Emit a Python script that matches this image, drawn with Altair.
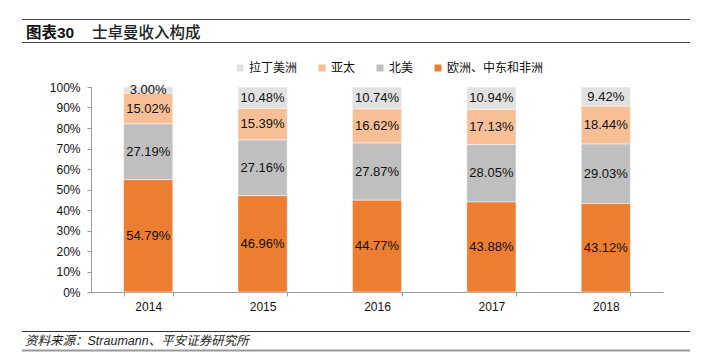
import altair as alt
import pandas as pd

years = ["2014", "2015", "2016", "2017", "2018"]
regions = ["拉丁美洲", "亚太", "北美", "欧洲、中东和非洲"]
latam = [3.00, 10.48, 10.74, 10.94, 9.42]
apac = [15.02, 15.39, 16.62, 17.13, 18.44]
namer = [27.19, 27.16, 27.87, 28.05, 29.03]
emea = [54.79, 46.96, 44.77, 43.88, 43.12]
colors = ["#E1E1E1", "#F8BF96", "#BFBFBF", "#ED7D31"]
y_ticks = list(range(0, 101, 10))

title_a = "图表30"
title_b = "士卓曼收入构成"
source = "资料来源：Straumann、平安证券研究所"

series = {"拉丁美洲": latam, "亚太": apac, "北美": namer, "欧洲、中东和非洲": emea}
stack_rank = {"欧洲、中东和非洲": 0, "北美": 1, "亚太": 2, "拉丁美洲": 3}
rows = []
for r, vals in series.items():
    for yr, v in zip(years, vals):
        rows.append({"year": yr, "region": r, "value": v, "rank": stack_rank[r],
                     "label": f"{v:.2f}%"})
df = pd.DataFrame(rows)

LAT = "Liberation Sans"
CJK = "Noto Sans CJK SC"
MIX = "Liberation Sans, Noto Sans CJK SC"

base = alt.Chart(df).transform_stack(
    as_=["v0", "v1"], stack="value", groupby=["year"],
    sort=[alt.SortField("rank", order="ascending")]
).transform_calculate(mid="(datum.v0 + datum.v1) / 2")

x_axis = alt.Axis(title=None, labelAngle=0, labelFontSize=12, labelFont=LAT,
                  labelColor="#111", domainColor="#999", tickColor="#999",
                  tickBand="extent", tickSize=4, labelPadding=5)
y_axis = alt.Axis(title=None, values=y_ticks, labelExpr="datum.value + '%'",
                  grid=False, labelFontSize=12, labelFont=LAT, labelColor="#111",
                  domainColor="#999", tickColor="#999", tickSize=4,
                  labelPadding=7, labelOverlap=False, labelFlush=False)
x_scale = alt.Scale(paddingInner=0.57, paddingOuter=0.285)
y_scale = alt.Scale(domain=[0, 100], nice=False)

bars = base.mark_bar(stroke="white", strokeWidth=0.5).encode(
    x=alt.X("year:N", sort=years, scale=x_scale, axis=x_axis),
    y=alt.Y("v0:Q", scale=y_scale, axis=y_axis),
    y2="v1:Q",
    color=alt.Color("region:N", scale=alt.Scale(domain=regions, range=colors),
                    legend=alt.Legend(title=None, orient="none", direction="horizontal",
                                      legendX=143, legendY=-25, symbolType="square",
                                      symbolSize=49, symbolStrokeWidth=0,
                                      labelFontSize=12, labelFont=CJK, labelColor="#111",
                                      labelOffset=3, columnPadding=18)),
)

labels = base.mark_text(fontSize=13, font=LAT, color="#111", baseline="middle").encode(
    x=alt.X("year:N", sort=years, scale=x_scale, axis=x_axis),
    y=alt.Y("mid:Q", scale=y_scale, axis=y_axis),
    text="label:N",
)

one = pd.DataFrame({"k": [0]})

def hline(y, color, width):
    return alt.Chart(one).mark_rule(color=color, strokeWidth=width).encode(
        x=alt.value(-69), x2=alt.value(599), y=alt.value(y))

deco = [
    hline(-67.5, "#444", 1.2),
    hline(-44.5, "#444", 1.2),
    hline(244.5, "#333", 1.2),
    hline(263.5, "#999", 2),
    alt.Chart(one).mark_text(text=title_a, font=MIX, fontSize=15.5, fontWeight="bold",
                             color="#111", align="left", baseline="middle").encode(
        x=alt.value(-65), y=alt.value(-54)),
    alt.Chart(one).mark_text(text=title_b, font=CJK, fontSize=15.5, fontWeight=500,
                             color="#222", align="left", baseline="middle").encode(
        x=alt.value(1), y=alt.value(-54)),
    alt.Chart(one).mark_text(text=source, font=MIX, fontSize=12.5, fontStyle="italic",
                             color="#222", align="left", baseline="middle").encode(
        x=alt.value(-66), y=alt.value(254)),
]

chart = alt.layer(bars, labels, *deco).resolve_scale(x="shared", y="shared").properties(
    width=572, height=205,
    autosize=alt.AutoSizeParams(type="none"),
    padding={"left": 91, "top": 87, "right": 47, "bottom": 62},
    background="white",
).configure_view(stroke=None)

chart.save("out.html", embed_options={"renderer": "svg", "actions": False})
